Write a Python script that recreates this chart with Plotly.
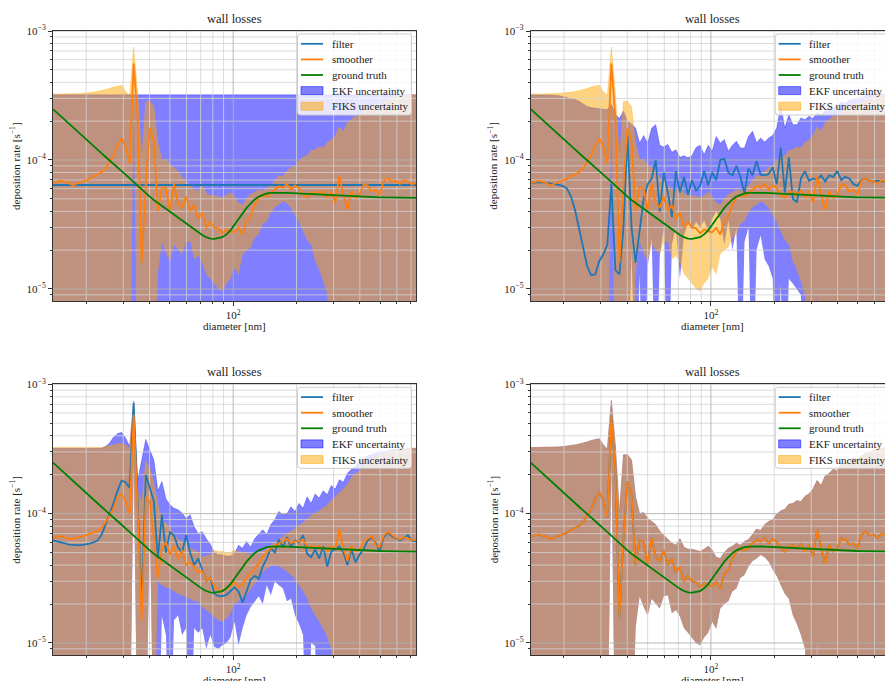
import numpy as np
import plotly.graph_objects as go

W, H = 885, 681
FONT = "Liberation Serif"
INK = "#222222"

# ---------------------------------------------------------------------------
# diameter grid [nm] (log-spaced bins)
D_MIN, D_MAX, N_BINS = 13.9, 740.0, 91
diameter = np.geomspace(D_MIN, D_MAX, N_BINS)

# all rates below are listed in units of 1e-5 s^-1; 0.1 marks a bound that
# falls below the bottom of the plotted range
UNIT = 1e-5

ground_truth = [
    24.8, 23.2, 21.8, 20.4, 19.1, 17.9, 16.8, 15.7, 14.7, 13.8,
    12.9, 12.1, 11.3, 10.6, 9.9, 9.3, 8.7, 8.2, 7.7, 7.2,
    6.7, 6.3, 5.9, 5.55, 5.2, 4.9, 4.65, 4.4, 4.15, 3.93,
    3.73, 3.54, 3.37, 3.2, 3.05, 2.9, 2.75, 2.62, 2.52, 2.46,
    2.45, 2.47, 2.52, 2.65, 2.85, 3.15, 3.5, 3.85, 4.25, 4.6,
    4.95, 5.2, 5.38, 5.5, 5.56, 5.58, 5.58, 5.57, 5.56, 5.54,
    5.52, 5.5, 5.48, 5.46, 5.44, 5.42, 5.39, 5.36, 5.33, 5.3,
    5.29, 5.27, 5.26, 5.24, 5.23, 5.21, 5.2, 5.19, 5.17, 5.16,
    5.15, 5.14, 5.13, 5.12, 5.12, 5.11, 5.11, 5.1, 5.1, 5.09, 5.09,
]

# fixed-interval smoother (final pass) and its uncertainty band
smoother = [
    6.64, 6.8, 6.9, 6.75, 6.6, 6.35, 6.6, 6.75, 6.9, 7.1,
    7.5, 7.8, 8.0, 8.6, 9.6, 10.8, 13.0, 14.6, 12.8, 9.4,
    56.0, 21.0, 1.6, 6.5, 17.7, 14.0, 4.0, 6.2, 6.0, 4.1,
    6.5, 4.6, 4.3, 5.2, 4.0, 4.5, 3.5, 3.9, 3.0, 3.3,
    3.0, 2.95, 2.7, 2.9, 2.8, 2.75, 2.97, 2.64, 3.4, 3.65,
    4.5, 5.1, 5.4, 5.2, 5.45, 5.9, 6.25, 6.1, 6.5, 5.9,
    6.35, 6.07, 5.4, 5.1, 5.55, 5.72, 5.4, 5.8, 5.08, 5.72,
    4.65, 7.5, 5.4, 4.1, 5.72, 5.1, 5.4, 6.44, 6.35, 5.72,
    5.9, 5.4, 6.9, 7.25, 6.8, 6.9, 6.5, 7.0, 6.8, 6.44, 6.7,
]
fiks_upper = [
    32.4, 32.4, 32.4, 32.5, 32.5, 32.6, 32.7, 32.8, 33.0, 33.2,
    33.5, 34.0, 34.5, 35.0, 35.8, 36.8, 37.5, 38.0, 34.0, 31.5,
    75.0, 33.0, 10.0, 28.5, 28.5, 26.0, 13.5, 10.0, 10.2, 9.2,
    8.7, 8.2, 7.3, 6.8, 6.3, 5.9, 5.7, 6.4, 5.5, 5.3,
    5.3, 5.2, 5.1, 5.3, 5.6, 5.2, 4.6, 4.5, 5.0, 5.4,
    5.6, 5.9, 5.7, 6.1, 6.3, 6.9, 7.6, 7.4, 8.2, 8.7,
    9.0, 9.9, 10.5, 10.8, 11.8, 12.0, 12.6, 12.4, 13.6, 14.2,
    15.5, 18.0, 16.5, 19.5, 20.5, 22.0, 21.5, 24.0, 25.0, 26.0,
    27.0, 26.5, 28.0, 29.0, 30.0, 31.0, 31.5, 32.0, 32.0, 32.0, 32.0,
]
fiks_lower = [
    0.1, 0.1, 0.1, 0.1, 0.1, 0.1, 0.1, 0.1, 0.1, 0.1,
    0.1, 0.1, 0.1, 0.1, 0.1, 0.1, 0.1, 0.1, 0.1, 0.1,
    25.0, 0.1, 0.1, 0.1, 0.1, 0.1, 1.3, 2.3, 1.9, 1.64,
    2.2, 2.0, 1.85, 2.3, 2.34, 1.7, 1.8, 1.6, 1.3, 1.2,
    1.1, 1.0, 0.96, 1.1, 1.2, 1.46, 1.29, 1.85, 2.0, 2.1,
    2.5, 2.64, 3.2, 3.35, 3.9, 4.3, 4.5, 4.78, 4.6, 4.25,
    3.7, 3.3, 2.8, 2.4, 2.2, 1.64, 1.4, 1.15, 0.9, 0.1,
    0.1, 1.0, 0.1, 0.1, 0.1, 0.1, 0.1, 0.1, 0.1, 0.1,
    0.1, 0.1, 0.1, 0.1, 0.1, 0.1, 0.1, 0.1, 0.1, 0.1, 0.1,
]

# extended Kalman filter, initial state (top left)
filter_initial = [
    6.4, 6.4, 6.4, 6.4, 6.4, 6.4, 6.4, 6.4, 6.4, 6.4,
    6.4, 6.4, 6.4, 6.4, 6.4, 6.4, 6.4, 6.4, 6.4, 6.4,
    6.4, 6.4, 6.4, 6.4, 6.4, 6.4, 6.4, 6.4, 6.4, 6.4,
    6.4, 6.4, 6.4, 6.4, 6.4, 6.4, 6.4, 6.4, 6.4, 6.4,
    6.4, 6.4, 6.4, 6.4, 6.4, 6.4, 6.4, 6.4, 6.4, 6.4,
    6.4, 6.4, 6.4, 6.4, 6.4, 6.4, 6.4, 6.4, 6.4, 6.4,
    6.4, 6.4, 6.4, 6.4, 6.4, 6.4, 6.4, 6.4, 6.4, 6.4,
    6.4, 6.4, 6.4, 6.4, 6.4, 6.4, 6.4, 6.4, 6.4, 6.4,
    6.4, 6.4, 6.4, 6.4, 6.4, 6.4, 6.4, 6.4, 6.4, 6.4, 6.4,
]
ekf_initial_upper = [
    32.0, 32.0, 32.0, 32.0, 32.0, 32.0, 32.0, 32.0, 32.0, 32.0,
    32.0, 32.0, 32.0, 32.0, 32.0, 32.0, 32.0, 32.0, 32.0, 32.0,
    32.0, 32.0, 32.0, 32.0, 32.0, 32.0, 32.0, 32.0, 32.0, 32.0,
    32.0, 32.0, 32.0, 32.0, 32.0, 32.0, 32.0, 32.0, 32.0, 32.0,
    32.0, 32.0, 32.0, 32.0, 32.0, 32.0, 32.0, 32.0, 32.0, 32.0,
    32.0, 32.0, 32.0, 32.0, 32.0, 32.0, 32.0, 32.0, 32.0, 32.0,
    32.0, 32.0, 32.0, 32.0, 32.0, 32.0, 32.0, 32.0, 32.0, 32.0,
    32.0, 32.0, 32.0, 32.0, 32.0, 32.0, 32.0, 32.0, 32.0, 32.0,
    32.0, 32.0, 32.0, 32.0, 32.0, 32.0, 32.0, 32.0, 32.0, 32.0, 32.0,
]
ekf_initial_lower = [
    0.1, 0.1, 0.1, 0.1, 0.1, 0.1, 0.1, 0.1, 0.1, 0.1,
    0.1, 0.1, 0.1, 0.1, 0.1, 0.1, 0.1, 0.1, 0.1, 0.1,
    0.1, 0.1, 0.1, 0.1, 0.1, 0.1, 0.1, 0.1, 0.1, 0.1,
    0.1, 0.1, 0.1, 0.1, 0.1, 0.1, 0.1, 0.1, 0.1, 0.1,
    0.1, 0.1, 0.1, 0.1, 0.1, 0.1, 0.1, 0.1, 0.1, 0.1,
    0.1, 0.1, 0.1, 0.1, 0.1, 0.1, 0.1, 0.1, 0.1, 0.1,
    0.1, 0.1, 0.1, 0.1, 0.1, 0.1, 0.1, 0.1, 0.1, 0.1,
    0.1, 0.1, 0.1, 0.1, 0.1, 0.1, 0.1, 0.1, 0.1, 0.1,
    0.1, 0.1, 0.1, 0.1, 0.1, 0.1, 0.1, 0.1, 0.1, 0.1, 0.1,
]

# extended Kalman filter, early stage (top right)
filter_early = [
    6.64, 6.7, 6.75, 6.7, 6.65, 6.6, 6.5, 6.4, 6.3, 6.0,
    5.2, 4.1, 3.0, 2.1, 1.5, 1.28, 1.3, 1.65, 1.85, 2.2,
    6.5, 1.4, 1.3, 3.0, 15.5, 3.0, 1.6, 2.8, 5.0, 6.5,
    7.2, 10.0, 4.0, 8.0, 5.6, 3.6, 8.2, 5.6, 7.4, 5.4,
    7.0, 5.8, 6.3, 8.2, 6.4, 8.0, 7.0, 10.0, 10.2, 8.0,
    7.6, 9.0, 7.4, 5.5, 8.6, 7.6, 9.8, 7.7, 7.6, 7.8,
    8.8, 6.5, 12.5, 5.6, 10.5, 5.0, 4.7, 7.2, 8.2, 6.9,
    7.2, 7.0, 7.6, 6.8, 7.6, 7.4, 8.2, 7.0, 7.4, 7.2,
    6.5, 6.3, 7.0, 7.2, 6.9, 6.8, 6.9, 6.85, 6.8, 6.6, 6.7,
]
ekf_early_upper = [
    32.0, 32.0, 32.0, 32.0, 32.0, 32.0, 31.8, 31.5, 31.0, 30.5,
    30.0, 29.5, 28.5, 27.0, 26.0, 25.5, 25.2, 25.0, 24.6, 24.5,
    27.0, 22.5, 21.0, 24.0, 20.0, 19.0, 17.7, 13.5, 15.5, 13.5,
    17.7, 18.8, 13.0, 12.6, 13.2, 11.5, 12.0, 10.5, 10.8, 10.4,
    10.8, 12.5, 13.0, 11.0, 13.0, 11.7, 15.2, 13.5, 14.4, 11.7,
    13.0, 14.0, 12.4, 12.4, 15.2, 16.7, 13.6, 14.8, 13.8, 14.8,
    15.5, 17.7, 26.5, 17.7, 22.4, 18.8, 18.8, 21.2, 20.5, 21.8,
    21.0, 23.2, 22.5, 24.0, 25.5, 25.0, 26.5, 28.0, 27.5, 29.0,
    29.5, 30.3, 30.5, 31.5, 32.0, 32.0, 32.3, 32.5, 32.5, 32.5, 32.5,
]
ekf_early_lower = [
    0.1, 0.1, 0.1, 0.1, 0.1, 0.1, 0.1, 0.1, 0.1, 0.1,
    0.1, 0.1, 0.1, 0.1, 0.1, 0.1, 0.1, 0.1, 0.1, 0.1,
    0.1, 0.1, 0.1, 0.1, 0.1, 2.0, 0.1, 1.3, 0.1, 1.5,
    2.5, 0.1, 1.8, 3.0, 0.1, 2.2, 3.0, 1.2, 2.6, 3.2,
    2.9, 3.3, 3.0, 3.4, 2.8, 3.5, 4.0, 3.5, 2.2, 3.4,
    2.0, 3.0, 0.1, 2.3, 3.0, 0.1, 2.0, 2.6, 1.7, 1.5,
    1.2, 0.1, 1.1, 0.1, 1.2, 1.1, 1.0, 0.9, 0.1, 0.1,
    0.1, 0.1, 0.1, 0.1, 0.1, 0.1, 0.1, 0.1, 0.1, 0.1,
    0.1, 0.1, 0.1, 0.1, 0.1, 0.1, 0.1, 0.1, 0.1, 0.1, 0.1,
]

# filter and smoother at an intermediate stage (bottom left)
filter_mid = [
    6.2, 6.1, 6.05, 5.9, 5.75, 5.7, 5.7, 5.7, 5.75, 5.85,
    6.0, 6.2, 6.8, 8.2, 9.8, 12.0, 15.0, 18.0, 17.5, 15.8,
    72.0, 10.0, 1.9, 20.0, 15.8, 12.5, 4.5, 9.8, 5.0, 7.2,
    6.8, 5.5, 5.0, 6.8, 5.0, 4.0, 4.5, 3.6, 3.0, 3.2,
    2.4, 2.3, 2.3, 2.35, 2.5, 2.7, 2.5, 2.05, 2.5, 3.1,
    3.3, 3.15, 3.9, 4.5, 5.4, 5.0, 6.3, 5.5, 6.6, 5.5,
    6.2, 6.0, 6.8, 4.9, 4.6, 5.3, 4.5, 5.6, 3.9, 5.1,
    5.3, 5.6, 5.0, 4.0, 5.3, 4.2, 4.8, 5.3, 6.2, 6.5,
    5.9, 5.1, 6.6, 7.1, 6.7, 6.4, 6.2, 6.5, 6.8, 6.2, 6.1,
]
ekf_mid_upper = [
    32.0, 32.0, 32.0, 32.0, 32.0, 32.0, 32.0, 32.0, 32.0, 32.0,
    32.0, 32.0, 32.0, 33.0, 35.0, 39.0, 41.5, 42.5, 38.5, 33.0,
    74.0, 18.0, 25.5, 37.5, 31.0, 26.0, 15.0, 17.7, 13.0, 11.7,
    11.0, 10.7, 10.1, 9.2, 9.8, 7.9, 7.0, 7.25, 6.4, 5.8,
    5.0, 4.8, 4.8, 4.7, 4.7, 4.9, 5.7, 5.4, 6.1, 5.5,
    6.4, 6.9, 7.5, 6.9, 8.2, 9.0, 10.4, 9.8, 10.0, 11.3,
    10.4, 12.0, 11.0, 13.5, 12.0, 14.2, 13.2, 15.0, 14.0, 16.5,
    15.5, 18.3, 17.5, 20.5, 22.0, 23.0, 25.5, 26.0, 28.0, 28.5,
    29.4, 30.0, 30.3, 30.8, 31.0, 31.4, 31.6, 32.0, 32.0, 32.0, 32.0,
]
ekf_mid_lower = [
    0.1, 0.1, 0.1, 0.1, 0.1, 0.1, 0.1, 0.1, 0.1, 0.1,
    0.1, 0.1, 0.1, 0.1, 0.1, 0.1, 0.1, 0.1, 0.1, 0.1,
    25.0, 0.1, 0.1, 0.1, 9.0, 0.1, 0.1, 1.6, 1.15, 0.1,
    1.5, 1.64, 1.15, 1.3, 0.1, 1.3, 1.2, 1.3, 0.9, 1.15,
    0.93, 0.9, 0.96, 1.0, 1.1, 1.46, 0.96, 1.3, 1.64, 1.9,
    2.08, 2.3, 2.0, 2.8, 2.34, 2.97, 2.8, 2.64, 2.1, 2.2,
    1.64, 1.4, 1.15, 0.1, 1.0, 0.95, 0.1, 0.1, 0.1, 0.1,
    0.1, 0.1, 0.1, 0.1, 0.1, 0.1, 0.1, 0.1, 0.1, 0.1,
    0.1, 0.1, 0.1, 0.1, 0.1, 0.1, 0.1, 0.1, 0.1, 0.1, 0.1,
]
smoother_mid = [
    6.5, 6.65, 6.7, 6.55, 6.35, 6.4, 6.5, 6.65, 6.8, 6.95,
    7.1, 7.35, 7.7, 8.6, 9.6, 11.0, 13.5, 14.0, 12.6, 10.0,
    58.0, 10.0, 1.5, 13.5, 12.4, 6.5, 3.2, 5.5, 6.0, 4.8,
    5.6, 4.5, 5.2, 4.0, 4.2, 3.9, 3.5, 3.6, 3.0, 3.2,
    2.75, 2.55, 2.5, 2.64, 2.75, 2.95, 2.7, 2.85, 3.2, 3.45,
    3.75, 4.1, 4.6, 4.95, 5.4, 5.6, 5.9, 6.1, 6.4, 5.9,
    6.1, 6.1, 6.3, 5.5, 5.6, 5.5, 5.6, 5.4, 5.1, 5.6,
    5.4, 7.5, 5.4, 4.3, 5.6, 5.1, 5.2, 6.0, 6.4, 6.7,
    5.7, 5.5, 6.8, 7.2, 6.9, 6.5, 6.3, 6.6, 6.4, 6.3, 6.25,
]
fiks_mid_upper = [
    32.5, 32.5, 32.5, 32.5, 32.5, 32.5, 32.5, 32.5, 32.5, 32.5,
    32.5, 32.5, 32.5, 33.0, 33.5, 34.0, 34.5, 35.0, 34.0, 32.0,
    74.0, 15.0, 12.0, 25.5, 22.4, 17.0, 12.0, 8.7, 8.5, 7.7,
    7.0, 6.3, 6.1, 5.8, 5.4, 5.2, 5.0, 4.6, 4.7, 4.8,
    5.2, 5.1, 5.1, 5.0, 5.0, 5.2, 5.1, 5.0, 4.9, 4.8,
    4.9, 5.0, 5.1, 5.3, 5.7, 6.0, 6.3, 6.6, 7.0, 7.3,
    7.7, 8.1, 8.5, 9.1, 9.6, 10.1, 10.5, 11.0, 11.6, 12.6,
    13.6, 14.5, 15.5, 16.7, 19.0, 20.5, 21.5, 23.0, 24.6, 26.0,
    27.5, 28.3, 29.0, 29.4, 30.2, 31.0, 31.5, 32.0, 32.0, 32.0, 32.0,
]
fiks_mid_lower = [
    0.1, 0.1, 0.1, 0.1, 0.1, 0.1, 0.1, 0.1, 0.1, 0.1,
    0.1, 0.1, 0.1, 0.1, 0.1, 0.1, 0.1, 0.1, 0.1, 0.1,
    25.0, 0.1, 0.1, 0.1, 9.0, 0.1, 2.97, 2.8, 2.7, 2.64,
    2.5, 2.4, 2.34, 2.25, 2.2, 2.1, 2.08, 1.9, 1.8, 1.7,
    1.6, 1.5, 1.46, 1.55, 1.7, 2.0, 2.1, 2.2, 2.34, 2.6,
    2.9, 3.2, 3.5, 3.77, 3.9, 4.0, 3.9, 3.77, 3.55, 3.35,
    3.1, 2.8, 2.5, 2.2, 1.85, 1.64, 1.46, 1.29, 1.1, 0.9,
    0.1, 0.1, 0.1, 0.1, 0.1, 0.1, 0.1, 0.1, 0.1, 0.1,
    0.1, 0.1, 0.1, 0.1, 0.1, 0.1, 0.1, 0.1, 0.1, 0.1, 0.1,
]

# panel contents: (ekf lower, ekf upper, fiks lower, fiks upper, filter, smoother)
panels = {
    "tl": (ekf_initial_lower, ekf_initial_upper, fiks_lower, fiks_upper, filter_initial, smoother),
    "tr": (ekf_early_lower, ekf_early_upper, fiks_lower, fiks_upper, filter_early, smoother),
    "bl": (ekf_mid_lower, ekf_mid_upper, fiks_mid_lower, fiks_mid_upper, filter_mid, smoother_mid),
    # at the last step the filter coincides with the smoother
    "br": (fiks_lower, fiks_upper, fiks_lower, fiks_upper, smoother, smoother),
}

# axis ticks
X_MAJOR = [100]
X_MAJOR_TEXT = ["10<sup>2</sup>"]
X_MINOR = [20, 30, 40, 50, 60, 70, 80, 90, 200, 300, 400, 500, 600, 700]
Y_MAJOR = [1e-5, 1e-4, 1e-3]
Y_MAJOR_TEXT = ["10<sup>\u22125</sup>", "10<sup>\u22124</sup>", "10<sup>\u22123</sup>"]
Y_MINOR = [9e-6, 2e-5, 3e-5, 4e-5, 5e-5, 6e-5, 7e-5, 8e-5, 9e-5,
           2e-4, 3e-4, 4e-4, 5e-4, 6e-4, 7e-4, 8e-4, 9e-4]

# ---------------------------------------------------------------------------
# layout geometry in pixels: left, right, top, bottom of each axes box
FULL_WIDTH = 363.0
PX_PER_DECADE = FULL_WIDTH / np.log10(D_MAX / D_MIN)
boxes = {
    "tl": (53.0, 416.0, 31.0, 301.0),
    "tr": (530.7, 885.0, 31.0, 301.0),
    "bl": (53.0, 416.0, 384.3, 655.0),
    "br": (530.7, 885.0, 384.3, 655.0),
}
Y_RANGE = [np.log10(8.07e-6), -3.0]
axis_ids = {"tl": "", "tr": "2", "bl": "3", "br": "4"}


def fx(p):
    return p / W


def fy(p):
    return 1 - p / H


BLUE_FILL = "rgba(0,0,255,0.5)"
ORANGE_FILL = "rgba(255,165,0,0.5)"
C_FILTER = "#1f77b4"
C_SMOOTH = "#ff7f0e"
C_TRUTH = "#008000"
GRID_MAJOR = "#b0b0b0"
GRID_MINOR = "#d2d2d2"
LW = 1.8

fig = go.Figure()
layout_axes = {}
shapes = []
annotations = []

for key, (ekf_lo, ekf_hi, fk_lo, fk_hi, filt, smooth) in panels.items():
    aid = axis_ids[key]
    xa, ya = "x" + aid, "y" + aid
    left, right, top, bottom = boxes[key]
    x0 = np.log10(D_MIN)
    x1 = x0 + (right - left) / PX_PER_DECADE

    def add_line(values, **kw):
        fig.add_trace(go.Scatter(x=diameter, y=np.asarray(values) * UNIT, xaxis=xa, yaxis=ya,
                                 mode="lines", hoverinfo="skip", showlegend=False, **kw))

    # uncertainty bands
    add_line(ekf_lo, line=dict(width=0, color=BLUE_FILL))
    add_line(ekf_hi, line=dict(width=0.6, color=BLUE_FILL), fill="tonexty", fillcolor=BLUE_FILL)
    add_line(fk_lo, line=dict(width=0, color=ORANGE_FILL))
    add_line(fk_hi, line=dict(width=0.6, color=ORANGE_FILL), fill="tonexty", fillcolor=ORANGE_FILL)

    # grid drawn over the bands, under the curves
    for xs_list, ys_list, color, width in (
        (X_MINOR, Y_MINOR, GRID_MINOR, 0.8),
        (X_MAJOR, Y_MAJOR, GRID_MAJOR, 0.9),
    ):
        gx, gy = [], []
        for v in xs_list:
            gx += [v, v, None]
            gy += [1e-6, 1e-2, None]
        for v in ys_list:
            gx += [5, 5000, None]
            gy += [v, v, None]
        fig.add_trace(go.Scatter(x=gx, y=gy, xaxis=xa, yaxis=ya, mode="lines",
                                 line=dict(color=color, width=width),
                                 hoverinfo="skip", showlegend=False))

    add_line(filt, line=dict(color=C_FILTER, width=LW))
    add_line(smooth, line=dict(color=C_SMOOTH, width=LW))
    add_line(ground_truth, line=dict(color=C_TRUTH, width=LW))

    right_col = key in ("tr", "br")
    layout_axes["xaxis" + aid] = dict(
        type="log", range=[x0, x1], domain=[fx(left), fx(right)], anchor=ya,
        showgrid=False, zeroline=False, showline=True, linecolor="#333", linewidth=1,
        mirror=True, ticks="outside", ticklen=4, tickwidth=0.9, tickcolor="#333",
        tickmode="array", tickvals=X_MAJOR, ticktext=X_MAJOR_TEXT,
        tickfont=dict(family=FONT, size=11, color=INK),
        minor=dict(tickmode="array", tickvals=X_MINOR, ticks="outside", ticklen=2,
                   tickwidth=0.7, tickcolor="#333", showgrid=False),
    )
    layout_axes["yaxis" + aid] = dict(
        type="log", range=Y_RANGE, domain=[fy(bottom), fy(top)], anchor=xa,
        showgrid=False, zeroline=False, showline=True, linecolor="#333", linewidth=1,
        mirror=not right_col, ticks="outside", ticklen=4, tickwidth=0.9, tickcolor="#333",
        tickmode="array", tickvals=Y_MAJOR, ticktext=Y_MAJOR_TEXT,
        tickfont=dict(family=FONT, size=11, color=INK),
        minor=dict(tickmode="array", tickvals=Y_MINOR, ticks="outside", ticklen=2,
                   tickwidth=0.7, tickcolor="#333", showgrid=False),
    )

    # titles and axis labels
    cx = left + FULL_WIDTH / 2
    cy = (top + bottom) / 2
    annotations.append(dict(text="wall losses", x=fx(cx), y=fy(top - 12), xref="paper", yref="paper",
                            showarrow=False, xanchor="center", yanchor="middle",
                            font=dict(family=FONT, size=12.5, color=INK)))
    annotations.append(dict(text="diameter [nm]", x=fx(cx), y=fy(bottom + 25), xref="paper", yref="paper",
                            showarrow=False, xanchor="center", yanchor="middle",
                            font=dict(family=FONT, size=11, color=INK)))
    annotations.append(dict(text="deposition rate [s<sup>\u22121</sup>]", x=fx(left - 38), y=fy(cy),
                            xref="paper", yref="paper", showarrow=False, textangle=-90,
                            xanchor="center", yanchor="middle",
                            font=dict(family=FONT, size=11, color=INK)))

    # legend box
    bl_, br_ = left + 244.5, left + 244.5 + 114
    bt_, bb_ = top + 3, top + 84
    r = 3
    path = (f"M {fx(bl_ + r)},{fy(bt_)} L {fx(br_ - r)},{fy(bt_)} Q {fx(br_)},{fy(bt_)} {fx(br_)},{fy(bt_ + r)} "
            f"L {fx(br_)},{fy(bb_ - r)} Q {fx(br_)},{fy(bb_)} {fx(br_ - r)},{fy(bb_)} "
            f"L {fx(bl_ + r)},{fy(bb_)} Q {fx(bl_)},{fy(bb_)} {fx(bl_)},{fy(bb_ - r)} "
            f"L {fx(bl_)},{fy(bt_ + r)} Q {fx(bl_)},{fy(bt_)} {fx(bl_ + r)},{fy(bt_)} Z")
    shapes.append(dict(type="path", path=path, xref="paper", yref="paper",
                       fillcolor="rgba(255,255,255,0.8)", line=dict(color="#cccccc", width=1)))
    entries = [
        ("filter", "line", C_FILTER),
        ("smoother", "line", C_SMOOTH),
        ("ground truth", "line", C_TRUTH),
        ("EKF uncertainty", "patch", BLUE_FILL),
        ("FIKS uncertainty", "patch", ORANGE_FILL),
    ]
    for k, (label, kind, color) in enumerate(entries):
        ry = top + 12.8 + 15.6 * k
        hx0, hx1 = bl_ + 3.5, bl_ + 25.5
        if kind == "line":
            shapes.append(dict(type="line", xref="paper", yref="paper", x0=fx(hx0), x1=fx(hx1),
                               y0=fy(ry), y1=fy(ry), line=dict(color=color, width=LW)))
        else:
            shapes.append(dict(type="rect", xref="paper", yref="paper", x0=fx(hx0), x1=fx(hx1),
                               y0=fy(ry + 4), y1=fy(ry - 4), fillcolor=color,
                               line=dict(color=color, width=1)))
        annotations.append(dict(text=label, x=fx(bl_ + 32), y=fy(ry), xref="paper", yref="paper",
                                showarrow=False, xanchor="left", yanchor="middle",
                                font=dict(family=FONT, size=11, color=INK)))

fig.update_layout(
    width=W, height=H,
    margin=dict(l=0, r=0, t=0, b=0, autoexpand=False),
    paper_bgcolor="white", plot_bgcolor="white",
    showlegend=False,
    shapes=shapes, annotations=annotations,
    **layout_axes,
)

fig.write_html("out.html")
